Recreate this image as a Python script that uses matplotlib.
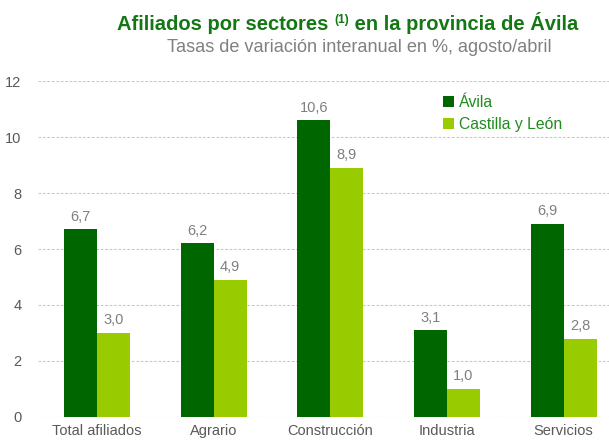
import matplotlib
matplotlib.use("Agg")
import matplotlib.pyplot as plt
import numpy as np

categories = ["Total afiliados", "Agrario", "Construcción", "Industria", "Servicios"]
avila = [6.7, 6.2, 10.6, 3.1, 6.9]
cyl = [3.0, 4.9, 8.9, 1.0, 2.8]
series_names = ["Ávila", "Castilla y León"]
yticks = [0, 2, 4, 6, 8, 10, 12]

dark = "#006600"
light = "#99CC00"
title_green = "#137813"
gray_tick = "#595959"
gray_val = "#7F7F7F"

plt.rcParams["font.family"] = ["Liberation Sans", "DejaVu Sans"]

fig = plt.figure(figsize=(6.09, 4.41), dpi=100)
ax = fig.add_axes([38/609, 24/441, 1 - 38/609, 336/441])

x = np.arange(len(categories))
w = 0.283
b1 = ax.bar(x - w/2, avila, w, color=dark, label=series_names[0])
b2 = ax.bar(x + w/2, cyl, w, color=light, label=series_names[1])

for bars, vals in ((b1, avila), (b2, cyl)):
    for r, v in zip(bars, vals):
        ax.annotate(f"{v:.1f}".replace(".", ","), (r.get_x() + r.get_width()/2, v),
                    xytext=(0, 4), textcoords="offset points", ha="center", va="bottom",
                    fontsize=10.5, color=gray_val)

ax.set_xlim(-0.506, 4.39)
ax.set_ylim(0, 12)
ax.set_yticks(yticks)
ax.set_yticklabels([str(t) for t in yticks])
ax.set_xticks(x)
ax.set_xticklabels(categories)
ax.tick_params(axis="both", length=0, labelsize=10.5, colors=gray_tick)
ax.tick_params(axis="y", pad=12)
ax.tick_params(axis="x", pad=5)
ax.grid(axis="y", color="#B5D9B5", linestyle=(0, (2.5, 1.5)), linewidth=0.8)
ax.set_axisbelow(True)
for s in ax.spines.values():
    s.set_visible(False)

leg = ax.legend(loc="upper left", bbox_to_anchor=(0.685, 1.0), frameon=False,
                fontsize=11.3, handlelength=0.7, handleheight=0.7, handletextpad=0.3,
                labelspacing=0.45)
for t in leg.get_texts():
    t.set_color("#1E8C1E")

fig.canvas.draw()
r = fig.canvas.get_renderer()

def measure(s, fs, weight):
    t = fig.text(0, 0, s, fontsize=fs, fontweight=weight)
    wd = t.get_window_extent(r).width
    t.remove()
    return wd

parts = [("Afiliados por sectores ", 1.0, 0), ("(1)", 0.6, 7), (" en la provincia de Ávila", 1.0, 0)]
base = 16
total = sum(measure(s, base*k, "bold") for s, k, _ in parts)
fs_title = base * 461 / total
xs = 117
ybase = 441 - 30
for s, k, dy in parts:
    fig.text(xs/609, (ybase + dy)/441, s, fontsize=fs_title*k, fontweight="bold",
             color=title_green, va="baseline", ha="left")
    xs += measure(s, fs_title*k, "bold")

sub = "Tasas de variación interanual en %, agosto/abril"
fs_sub = 12 * 388 / measure(sub, 12, "normal")
fig.text(359/609, 1 - 47/441, sub, fontsize=fs_sub, color="#808080", ha="center", va="center")

fig.savefig("out.png", dpi=100)
